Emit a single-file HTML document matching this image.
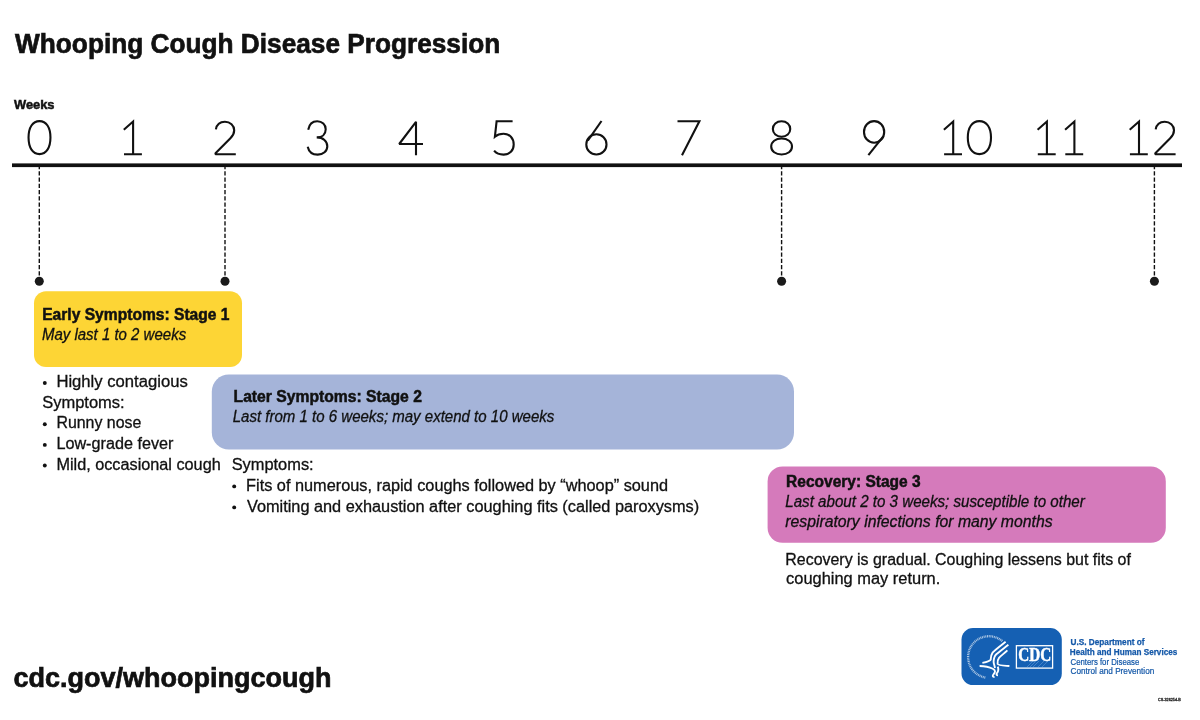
<!DOCTYPE html>
<html><head><meta charset="utf-8"><title>Whooping Cough Disease Progression</title>
<style>
html,body{margin:0;padding:0;background:#fff;width:1200px;height:720px;overflow:hidden}
svg{display:block;font-family:"Liberation Sans", sans-serif;will-change:transform}
</style></head><body>
<svg width="1200" height="720" viewBox="0 0 1200 720">
<rect x="12" y="163.4" width="1170" height="3.7" fill="#111"/>
<line x1="39.3" y1="167" x2="39.3" y2="278" stroke="#111" stroke-width="1.4" stroke-dasharray="4.2 2.05" stroke-dashoffset="2"/>
<circle cx="39.3" cy="281.2" r="4.5" fill="#1a1a1a"/>
<line x1="225" y1="167" x2="225" y2="278" stroke="#111" stroke-width="1.4" stroke-dasharray="4.2 2.05" stroke-dashoffset="2"/>
<circle cx="225" cy="281.2" r="4.5" fill="#1a1a1a"/>
<line x1="781.6" y1="167" x2="781.6" y2="278" stroke="#111" stroke-width="1.4" stroke-dasharray="4.2 2.05" stroke-dashoffset="2"/>
<circle cx="781.6" cy="281.2" r="4.5" fill="#1a1a1a"/>
<line x1="1154.4" y1="167" x2="1154.4" y2="278" stroke="#111" stroke-width="1.4" stroke-dasharray="4.2 2.05" stroke-dashoffset="2"/>
<circle cx="1154.4" cy="281.2" r="4.5" fill="#1a1a1a"/>
<g fill="none" stroke="#111" stroke-width="2.1" stroke-linecap="butt" stroke-linejoin="miter">
<g transform="translate(27.6,120.2)"><path d="M11.9,0.8999999999999986 C18.69,0.8999999999999986 22.85,7.17 22.85,17.4 C22.85,27.63 18.69,33.9 11.9,33.9 C5.11,33.9 0.9500000000000011,27.63 0.9500000000000011,17.4 C0.9500000000000011,7.17 5.11,0.8999999999999986 11.9,0.8999999999999986 Z"/></g>
<g transform="translate(123.1,120.2)"><path d="M0.7,9.6 L10,1.3 L10,34.1 M0.9,34.1 L18.8,34.1"/></g>
<g transform="translate(213.9,120.2)"><path d="M2,9.2 C2.8,4.3 6.3,1.5 11,1.5 C16.3,1.5 20.3,5.2 20.3,10 C20.3,13 19,15.5 16.5,18 L1.6,33 L1.6,34.1 L21.9,34.1" stroke-linejoin="bevel"/></g>
<g transform="translate(306.7,120.2)"><path d="M1.5,9.5 C2.5,4 6,1.1 10.5,1.1 C15.5,1.1 19,4.5 19,9 C19,14 15.5,17.2 10,17.2 C16.5,17.2 20.6,21 20.6,26 C20.6,31 16.5,34.4 11,34.4 C5.5,34.4 2,31 1,26.5"/></g>
<g transform="translate(398,120.2)"><path d="M25,23.8 L1.2,23.8 L18,1.6 L18,35" stroke-miterlimit="2"/></g>
<g transform="translate(493.1,120.2)"><path d="M19.5,1.1 L3.5,1.1 L1.8,16.5 C4,14.5 7,13.5 10.5,13.5 C16.5,13.5 20.6,18 20.6,24.2 C20.6,30.4 16.5,34.4 10.5,34.4 C6.5,34.4 3,33 1,30.5"/></g>
<g transform="translate(585.2,120.2)"><path d="M16.3,0.8 L2.6,20.5"/><path d="M11.2,14.1 C16.86,14.1 21.299999999999997,18.54 21.299999999999997,24.2 C21.299999999999997,29.86 16.86,34.3 11.2,34.3 C5.54,34.3 1.0999999999999996,29.86 1.0999999999999996,24.2 C1.0999999999999996,18.54 5.54,14.1 11.2,14.1 Z"/></g>
<g transform="translate(677,120.2)"><path d="M0.5,1.1 L22.4,1.1 L5,35"/></g>
<g transform="translate(770.2,120.2)"><path d="M11.35,1.1000000000000005 C16.40,1.1000000000000005 20.049999999999997,4.33 20.049999999999997,8.8 C20.049999999999997,13.27 16.40,16.5 11.35,16.5 C6.30,16.5 2.6500000000000004,13.27 2.6500000000000004,8.8 C2.6500000000000004,4.33 6.30,1.1000000000000005 11.35,1.1000000000000005 Z"/><path d="M11.4,18.3 C17.43,18.3 21.8,21.66 21.8,26.3 C21.8,30.94 17.43,34.3 11.4,34.3 C5.37,34.3 1.0,30.94 1.0,26.3 C1.0,21.66 5.37,18.3 11.4,18.3 Z"/></g>
<g transform="translate(862.9,120.2)"><path d="M11.2,0.8999999999999986 C16.86,0.8999999999999986 21.299999999999997,5.65 21.299999999999997,11.7 C21.299999999999997,17.75 16.86,22.5 11.2,22.5 C5.54,22.5 1.0999999999999996,17.75 1.0999999999999996,11.7 C1.0999999999999996,5.65 5.54,0.8999999999999986 11.2,0.8999999999999986 Z"/><path d="M20.6,16 L5.5,35"/></g>
<g transform="translate(943.2,120.2)"><path d="M0.7,9.6 L10,1.3 L10,34.1 M0.9,34.1 L18.8,34.1"/></g>
<g transform="translate(966.8,120.2)"><path d="M12.6,0.8999999999999986 C19.79,0.8999999999999986 24.2,7.17 24.2,17.4 C24.2,27.63 19.79,33.9 12.6,33.9 C5.41,33.9 1.0,27.63 1.0,17.4 C1.0,7.17 5.41,0.8999999999999986 12.6,0.8999999999999986 Z"/></g>
<g transform="translate(1036.9,120.2)"><path d="M0.7,9.6 L10,1.3 L10,34.1 M0.9,34.1 L18.8,34.1"/></g>
<g transform="translate(1064.4,120.2)"><path d="M0.7,9.6 L10,1.3 L10,34.1 M0.9,34.1 L18.8,34.1"/></g>
<g transform="translate(1129,120.2)"><path d="M0.7,9.6 L10,1.3 L10,34.1 M0.9,34.1 L18.8,34.1"/></g>
<g transform="translate(1153.7,120.2)"><path d="M2,9.2 C2.8,4.3 6.3,1.5 11,1.5 C16.3,1.5 20.3,5.2 20.3,10 C20.3,13 19,15.5 16.5,18 L1.6,33 L1.6,34.1 L21.9,34.1" stroke-linejoin="bevel"/></g>
</g>
<rect x="34" y="291.2" width="208" height="75.8" rx="12" fill="#FDD535"/>
<rect x="211.8" y="374.4" width="582.2" height="75.2" rx="17" fill="#A5B4D9"/>
<rect x="767.6" y="466.4" width="398.2" height="76.4" rx="15" fill="#D57ABB"/>
<circle cx="44.8" cy="383" r="1.95" fill="#111"/>
<circle cx="44.8" cy="424.3" r="1.95" fill="#111"/>
<circle cx="44.8" cy="444.9" r="1.95" fill="#111"/>
<circle cx="44.8" cy="465.5" r="1.95" fill="#111"/>
<circle cx="234.2" cy="486.4" r="1.95" fill="#111"/>
<circle cx="234.2" cy="507.4" r="1.95" fill="#111"/>
<text x="15.08" y="52.9" font-size="28" font-weight="bold" font-style="normal" fill="#111" stroke="#111" stroke-width="0.7" textLength="485.2" lengthAdjust="spacingAndGlyphs">Whooping Cough Disease Progression</text>
<text x="14.0" y="108.7" font-size="12.5" font-weight="bold" font-style="normal" fill="#111" stroke="#111" stroke-width="0.5" textLength="40.52" lengthAdjust="spacingAndGlyphs">Weeks</text>
<text x="42.2" y="319.6" font-size="15.8" font-weight="bold" font-style="normal" fill="#111" stroke="#111" stroke-width="0.5" textLength="187.32" lengthAdjust="spacingAndGlyphs">Early Symptoms: Stage 1</text>
<text x="41.92" y="340.4" font-size="15.6" font-weight="normal" font-style="italic" fill="#111" stroke="#111" stroke-width="0.3" textLength="144.24" lengthAdjust="spacingAndGlyphs">May last 1 to 2 weeks</text>
<text x="56.4" y="387.1" font-size="15.8" font-weight="normal" font-style="normal" fill="#111" stroke="#111" stroke-width="0.3" textLength="131.32" lengthAdjust="spacingAndGlyphs">Highly contagious</text>
<text x="42.2" y="407.7" font-size="15.8" font-weight="normal" font-style="normal" fill="#111" stroke="#111" stroke-width="0.3" textLength="82.48" lengthAdjust="spacingAndGlyphs">Symptoms:</text>
<text x="56.4" y="428.4" font-size="15.8" font-weight="normal" font-style="normal" fill="#111" stroke="#111" stroke-width="0.3" textLength="84.92" lengthAdjust="spacingAndGlyphs">Runny nose</text>
<text x="56.4" y="449" font-size="15.8" font-weight="normal" font-style="normal" fill="#111" stroke="#111" stroke-width="0.3" textLength="117.04" lengthAdjust="spacingAndGlyphs">Low-grade fever</text>
<text x="56.4" y="469.6" font-size="15.8" font-weight="normal" font-style="normal" fill="#111" stroke="#111" stroke-width="0.3" textLength="164.32" lengthAdjust="spacingAndGlyphs">Mild, occasional cough</text>
<text x="233.56" y="401.7" font-size="15.8" font-weight="bold" font-style="normal" fill="#111" stroke="#111" stroke-width="0.5" textLength="188.4" lengthAdjust="spacingAndGlyphs">Later Symptoms: Stage 2</text>
<text x="232.74" y="421.7" font-size="15.6" font-weight="normal" font-style="italic" fill="#111" stroke="#111" stroke-width="0.3" textLength="321.56" lengthAdjust="spacingAndGlyphs">Last from 1 to 6 weeks; may extend to 10 weeks</text>
<text x="231.66" y="469.8" font-size="15.8" font-weight="normal" font-style="normal" fill="#111" stroke="#111" stroke-width="0.3" textLength="82.0" lengthAdjust="spacingAndGlyphs">Symptoms:</text>
<text x="246.12" y="490.5" font-size="15.8" font-weight="normal" font-style="normal" fill="#111" stroke="#111" stroke-width="0.3" textLength="421.92" lengthAdjust="spacingAndGlyphs">Fits of numerous, rapid coughs followed by “whoop” sound</text>
<text x="246.92" y="511.5" font-size="15.8" font-weight="normal" font-style="normal" fill="#111" stroke="#111" stroke-width="0.3" textLength="452.28" lengthAdjust="spacingAndGlyphs">Vomiting and exhaustion after coughing fits (called paroxysms)</text>
<text x="786.1" y="486.5" font-size="15.8" font-weight="bold" font-style="normal" fill="#111" stroke="#111" stroke-width="0.5" textLength="134.48" lengthAdjust="spacingAndGlyphs">Recovery: Stage 3</text>
<text x="785.28" y="507.2" font-size="15.6" font-weight="normal" font-style="italic" fill="#111" stroke="#111" stroke-width="0.3" textLength="299.52" lengthAdjust="spacingAndGlyphs">Last about 2 to 3 weeks; susceptible to other</text>
<text x="785.28" y="527" font-size="15.6" font-weight="normal" font-style="italic" fill="#111" stroke="#111" stroke-width="0.3" textLength="267.32" lengthAdjust="spacingAndGlyphs">respiratory infections for many months</text>
<text x="785.3" y="564.5" font-size="15.8" font-weight="normal" font-style="normal" fill="#111" stroke="#111" stroke-width="0.3" textLength="345.56" lengthAdjust="spacingAndGlyphs">Recovery is gradual. Coughing lessens but fits of</text>
<text x="786.1" y="584.4" font-size="15.8" font-weight="normal" font-style="normal" fill="#111" stroke="#111" stroke-width="0.3" textLength="154.2" lengthAdjust="spacingAndGlyphs">coughing may return.</text>
<text x="13.56" y="686.7" font-size="27" font-weight="bold" font-style="normal" fill="#111" stroke="#111" stroke-width="0.7" textLength="317.96" lengthAdjust="spacingAndGlyphs">cdc.gov/whoopingcough</text>
<text x="1070.54" y="645.2" font-size="8.4" font-weight="bold" font-style="normal" fill="#1458A8" stroke="#1458A8" stroke-width="0.25" textLength="73.96" lengthAdjust="spacingAndGlyphs">U.S. Department of</text>
<text x="1069.74" y="654.7" font-size="8.4" font-weight="bold" font-style="normal" fill="#1458A8" stroke="#1458A8" stroke-width="0.25" textLength="107.56" lengthAdjust="spacingAndGlyphs">Health and Human Services</text>
<text x="1070.54" y="664.5" font-size="8.4" font-weight="normal" font-style="normal" fill="#1458A8" stroke="#1458A8" stroke-width="0.2" textLength="68.76" lengthAdjust="spacingAndGlyphs">Centers for Disease</text>
<text x="1070.54" y="673.9" font-size="8.4" font-weight="normal" font-style="normal" fill="#1458A8" stroke="#1458A8" stroke-width="0.2" textLength="83.76" lengthAdjust="spacingAndGlyphs">Control and Prevention</text>
<text x="1158.0" y="700.5" font-size="4" font-weight="normal" font-style="normal" fill="#222" stroke="#222" stroke-width="0.3" textLength="22.84" lengthAdjust="spacingAndGlyphs">CS-326254-B</text>
<g>
<rect x="961.5" y="628.1" width="100.3" height="57" rx="11.5" fill="#1560B3"/>
<rect x="1016.4" y="645.7" width="36.2" height="22.4" fill="none" stroke="#fff" stroke-width="1.3"/>
<g stroke="#7fb0e6" stroke-width="0.6" opacity="0.7">
<line x1="1027" y1="667" x2="1033" y2="661"/><line x1="1030" y1="667" x2="1036" y2="661"/><line x1="1033" y1="667" x2="1039" y2="661"/>
<line x1="1038" y1="667" x2="1046" y2="659"/><line x1="1042" y1="667" x2="1050" y2="659"/>
</g>
<text x="1018.3" y="661.4" font-family="Liberation Serif, serif" font-weight="bold" font-size="18.5" fill="#fff" stroke="#fff" stroke-width="0.5" textLength="33" lengthAdjust="spacingAndGlyphs">CDC</text>
<path d="M 985.3 677.5 A 20.8 20.8 0 1 1 1002.3 641.1" fill="none" stroke="#fff" stroke-width="2.3" stroke-dasharray="1 0.7" opacity="0.65"/>
<g fill="none" stroke="#fff" stroke-width="1.85" stroke-linecap="butt" stroke-linejoin="round">
<path d="M1005.6,641.7 L1002.5,644.2 C997,648.5 994,651 992.6,652.6 C991,654.8 990.9,657.5 990.7,659.6 C990.2,661 988.5,661.6 982.4,662.9"/>
<path d="M1008.4,644.8 C1003,649 998.5,652.3 996.3,654.3 C994.5,656 993.7,658.5 993.6,661.9 C993.7,663.8 994.6,665.5 995,668"/>
<path d="M1007.4,650.4 C1004,653.5 1000.7,656 999,657.8 C997.8,659.2 997.5,661.5 997.6,664 C998.2,665.4 1001,665.4 1009.4,666"/>
<path d="M979.6,666 C983,666 989,666.8 992.8,668.8 C995.8,670.4 995.5,672 993.5,674.4 C992.3,675.8 992.5,677 994.6,677.2"/>
<path d="M997.8,666.6 C998.6,669 998.3,671.8 996.6,673.6 C996.2,674.8 996.8,675.4 998,675.4"/>
</g>
</g>

</svg>
</body></html>
